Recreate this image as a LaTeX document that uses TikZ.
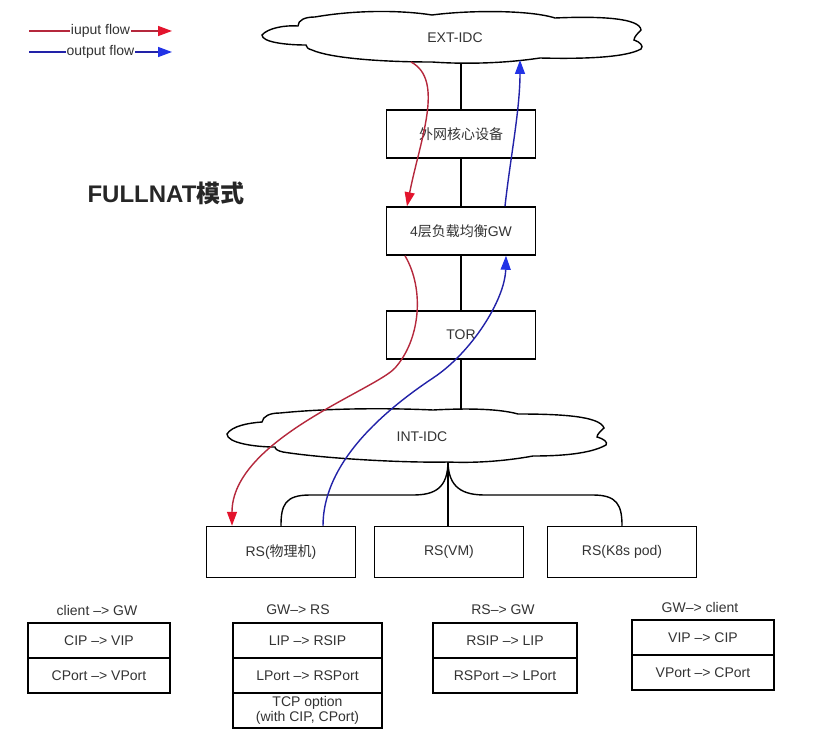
\documentclass[tikz,border=0pt]{standalone}
\usepackage{fontspec}
\setmainfont{Liberation Sans}
\newfontfamily\cjk{Noto Sans CJK SC}
\usetikzlibrary{positioning, arrows.meta, backgrounds}
\definecolor{inred}{HTML}{B5283C}
\definecolor{inredtip}{HTML}{E3142D}
\definecolor{outblue}{HTML}{2222A8}
\definecolor{outbluetip}{HTML}{2233E6}
\definecolor{textgray}{HTML}{333333}

\begin{document}
\begin{tikzpicture}[
      x=1pt, y=-1pt,
      font=\fontsize{14}{16}\selectfont,
      every node/.style={text=textgray},
      box/.style={
        draw,
        line width=1.5pt,
        fill=white,
        minimum width=149pt,
        minimum height=48pt,
      },
      idc/.style={draw, line width=1.4pt, fill=white},
      cell/.style={
        draw,
        line width=1.4pt,
        minimum width=#1,
        minimum height=35pt,
        outer sep=0pt,
        align=center,
      },
      inflow/.style={inred, line width=1.4pt, -{Triangle[length=14pt,width=10pt,color=inredtip]}},
      outflow/.style={outblue, line width=1.4pt, -{Triangle[length=14pt,width=10pt,color=outbluetip]}},
      ]
      \useasboundingbox (0,0) rectangle (813,746);
      % legend
      \coordinate (ina) at (29,31);
      \coordinate (inb) at (172,31);
      \coordinate (outa) at (29,52);
      \coordinate (outb) at (172,52);
      \draw[inflow] (ina) -- node[fill=white, inner sep=1pt] {iuput flow} (inb);
      \draw[outflow] (outa) -- node[fill=white, inner sep=1pt] {output flow} (outb);
      \node[font=\fontsize{24}{28}\selectfont\bfseries, text=black!85] (title) at (166,193) {FULLNAT{\cjk 模式}};
      % clouds
      \draw[idc] (262,35) .. controls (268,28) and (285,25) .. (298,26)
        .. controls (298,20) and (305,17) .. (315,17)
        .. controls (355,10) and (400,10) .. (432,15)
        .. controls (470,10) and (530,10) .. (555,18)
        .. controls (600,16) and (640,18) .. (641,30)
        .. controls (638,33) and (634,37) .. (634,40)
        .. controls (640,42) and (644,46) .. (641,49)
        .. controls (625,58) and (580,59) .. (540,58)
        .. controls (500,64) and (460,64) .. (432,62)
        .. controls (380,62) and (330,58) .. (312,50)
        .. controls (308,49) and (306,47) .. (306,45)
        .. controls (285,45) and (262,42) .. (262,35) -- cycle;
      \draw[idc] (227,434) .. controls (232,426) and (248,423) .. (262,422)
        .. controls (263,416) and (270,413) .. (280,413)
        .. controls (330,408) and (390,408) .. (433,410)
        .. controls (470,408) and (500,409) .. (518,414)
        .. controls (560,414) and (600,416) .. (604,428)
        .. controls (601,431) and (597,434) .. (597,437)
        .. controls (604,439) and (608,442) .. (606,445)
        .. controls (590,454) and (560,456) .. (533,456)
        .. controls (500,462) and (470,463) .. (448,462)
        .. controls (400,463) and (320,458) .. (283,452)
        .. controls (278,451) and (275,449) .. (275,447)
        .. controls (255,447) and (227,443) .. (227,434) -- cycle;
      \node (ext) at (455,38) {EXT-IDC};
      \node (int) at (422,437) {INT-IDC};
      \coordinate (extin) at (411,62);
      \coordinate (extout) at (520,60);
      % network
      \node[box] (core) at (461,134) {\cjk 外网核心设备};
      \node[box] (gw) at (461,231) {4{\cjk 层负载均衡}GW};
      \node[box] (tor) at (461,335) {TOR};
      \node[box, minimum height=51pt] (rs1) at (281,552) {RS({\cjk 物理机})};
      \node[box, minimum height=51pt] (rs2) at (449,552) {RS(VM)};
      \node[box, minimum height=51pt] (rs3) at (622,552) {RS(K8s pod)};
      \begin{scope}[on background layer]
        \fill[white] (0,0) rectangle (813,746);
        \draw[line width=1.4pt] (ext.center -| core.north) -- (int.center -| tor.south);
        \coordinate (jn) at (448,461);
        \draw[line width=1.4pt] (jn) -- (jn |- rs2.north);
        \draw[line width=1.4pt] (jn) .. controls (448,488) and (435,495) .. (413,495) -- (310,495)
          .. controls (285,495) and (281,505) .. (rs1.north);
        \draw[line width=1.4pt] (jn) .. controls (448,488) and (463,495) .. (485,495) -- (593,495)
          .. controls (617,495) and (622,505) .. (rs3.north);
      \end{scope}
      % flows
      \draw[inflow] (extin) .. controls (445,80) and (420,140) .. ([xshift=-54pt]gw.north);
      \draw[inflow] ([xshift=-56pt]gw.south) .. controls (425,290) and (420,340) .. (395,368)
        .. controls (375,390) and (232,440) .. ([xshift=-49pt]rs1.north);
      \draw[outflow] ([xshift=42pt]rs1.north) .. controls (323,470) and (370,420) .. (433,378)
        .. controls (471,353) and (505,300) .. ([xshift=45pt]gw.south);
      \draw[outflow] ([xshift=44pt]gw.north) .. controls (510,160) and (520,110) .. (extout);
      % header tables
      \node (c2g) at (97,610) {client --> GW};
      \node[cell=142pt] (c2ga) at (99,640.5) {CIP --> VIP};
      \node[cell=142pt, below=0pt of c2ga] (c2gb) {CPort --> VPort};
      \node (g2r) at (298,610) {GW--> RS};
      \node[cell=149pt] (g2ra) at (307.5,640.5) {LIP --> RSIP};
      \node[cell=149pt, below=0pt of g2ra] (g2rb) {LPort --> RSPort};
      \node[cell=149pt, below=0pt of g2rb, font=\fontsize{14}{15}\selectfont] (g2rc) {TCP option\\(with CIP, CPort)};
      \node (r2g) at (503,610) {RS--> GW};
      \node[cell=144pt] (r2ga) at (505,640.5) {RSIP --> LIP};
      \node[cell=144pt, below=0pt of r2ga] (r2gb) {RSPort --> LPort};
      \node (g2c) at (700,607) {GW--> client};
      \node[cell=142pt] (g2ca) at (703,637.5) {VIP --> CIP};
      \node[cell=142pt, below=0pt of g2ca] (g2cb) {VPort --> CPort};
    \end{tikzpicture}
\end{document}
